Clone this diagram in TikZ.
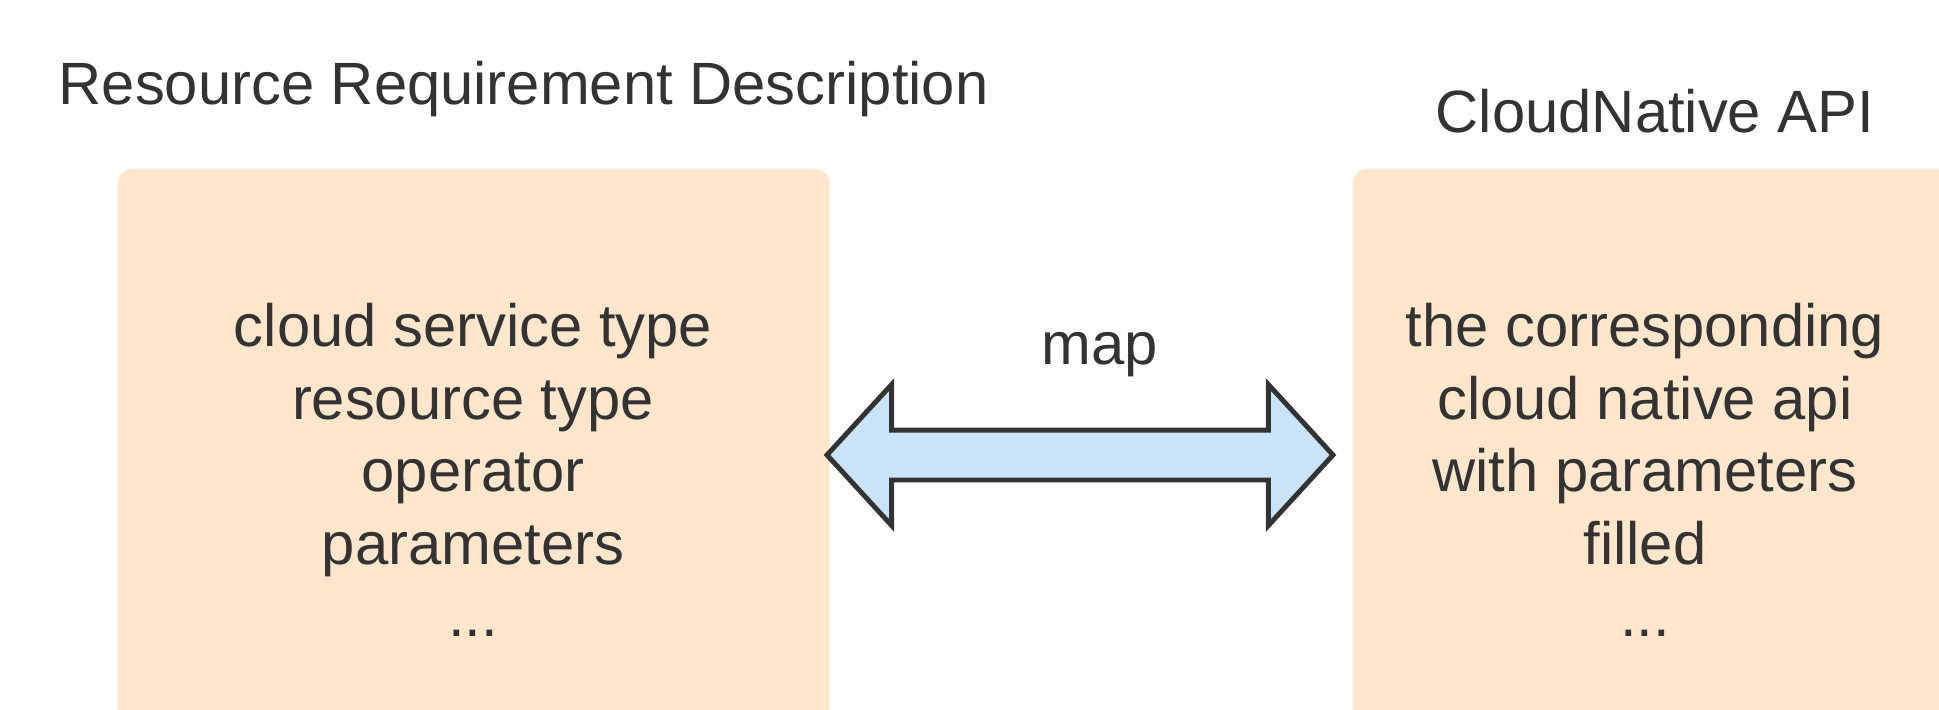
\documentclass[tikz,border=0pt]{standalone}
\usepackage{fontspec}
\setmainfont{Liberation Sans}
\usetikzlibrary{shapes.arrows,positioning}
\definecolor{boxfill}{HTML}{FFE6CC}
\definecolor{arrowfill}{HTML}{C9E3FB}
\definecolor{txt}{HTML}{333333}
\tikzset{
    every node/.style={text=txt,font=\fontsize{17}{20.6}\selectfont},
    block/.style={rectangle, rounded corners=0.15cm, fill=boxfill, anchor=north west, inner sep=0pt},
    content/.style={align=center},
    title/.style={inner sep=0pt},
    maparrow/.style={double arrow, draw=txt, line width=1.4pt, fill=arrowfill,
        minimum height=5.06cm, minimum width=1.36cm, inner sep=0pt,
        text height=0.45cm, double arrow head extend=0.455cm,
        double arrow tip angle=95}
}
\begin{document}
\begin{tikzpicture}
    \useasboundingbox (0,0) rectangle (19.39,7.09);
    \clip (0,0) rectangle (19.39,7.09);
    % boxes
    \node (req) [block, minimum width=7.12cm, minimum height=6.5cm] at (1.17,5.41) {};
    \node (api) [block, minimum width=6.5cm, minimum height=6.5cm] at (13.52,5.41) {};
    % titles
    \node (reqtitle) [title, anchor=west] at (0.58,6.20) {Resource Requirement Description};
    \node (apititle) [title] at (16.55,5.98) {CloudNative API};
    % box contents
    \node (reqtext) [content] at (4.73,2.39) {cloud service type\\resource type\\operator\\parameters\\...};
    \node (apitext) [content] at (16.45,2.39) {the corresponding\\cloud native api\\with parameters\\filled\\...};
    % mapping
    \node (map) [maparrow] at (10.80,2.54) {};
    \node (maplabel) at (11.00,3.54) {map};
\end{tikzpicture}
\end{document}
